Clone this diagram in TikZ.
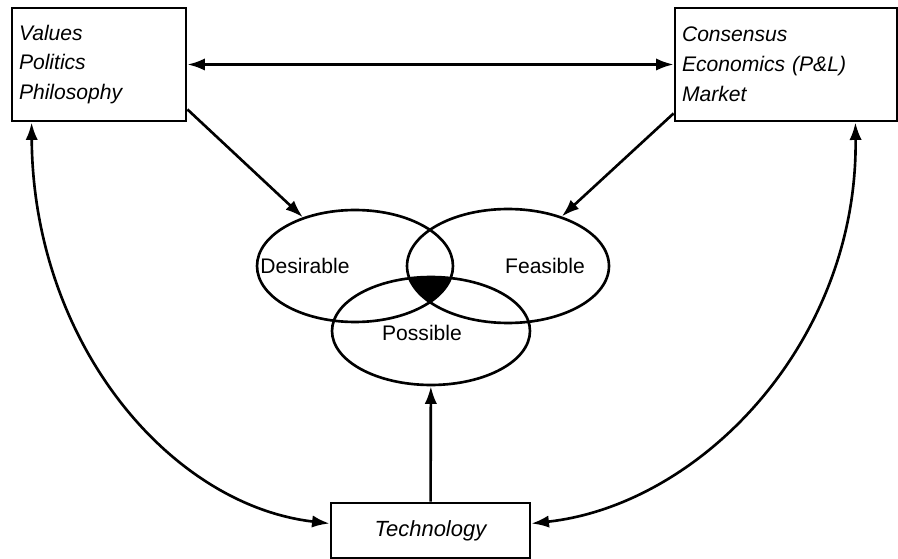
\documentclass[tikz,border=0pt]{standalone}
\usepackage{fontspec}
\setmainfont{Liberation Sans}
\usetikzlibrary{arrows.meta,positioning,calc,shapes.geometric}

\begin{document}
\begin{tikzpicture}[
    x=0.02cm, y=0.02cm,
    sidebox/.style={
        rectangle, draw, line width=1.6pt, align=left,
        inner xsep=0.14cm, minimum height=2.26cm,
        font=\fontsize{12}{17}\selectfont\itshape
    },
    techbox/.style={
        rectangle, draw, line width=1.6pt,
        minimum width=3.98cm, minimum height=1.1cm,
        font=\fontsize{12.5}{14}\selectfont\itshape
    },
    ring/.style={ellipse, draw, line width=1.5pt, inner sep=0pt},
    label/.style={font=\fontsize{12}{14}\selectfont},
    link/.style={-{Latex[length=10pt,width=7pt]}, line width=1.5pt},
    twoway/.style={{Latex[length=10pt,width=7pt]}-{Latex[length=10pt,width=7pt]}, line width=1.5pt}
]
\useasboundingbox (0,0) rectangle (898,558);

% Kästen
\node[sidebox, text width=3.2cm] (values) at (99,493.5) {Values\\Politics\\Philosophy};
\node[sidebox, text width=4.16cm] (consensus) at (786,493.5) {Consensus\\Economics (P\&L)\\Market};
\node[techbox] (tech) at (430.5,27.5) {Technology};

% Schnittmenge
\begin{scope}
    \clip (355,292) ellipse (1.96cm and 1.12cm);
    \clip (508,292) ellipse (2.02cm and 1.14cm);
    \fill (431,227) ellipse (1.98cm and 1.08cm);
\end{scope}

% Ellipsen
\node[ring, minimum width=3.92cm, minimum height=2.24cm] (desirable) at (355,292) {};
\node[ring, minimum width=4.04cm, minimum height=2.28cm] (feasible) at (508,292) {};
\node[ring, minimum width=3.96cm, minimum height=2.16cm] (possible) at (431,227) {};

\node[label] (deslabel) at (305,292) {Desirable};
\node[label] (feaslabel) at (545,292) {Feasible};
\node[label] (poslabel) at (422,225) {Possible};

% Pfeile
\draw[twoway] (values) -- (consensus);
\draw[link] ([yshift=0.26cm]values.south east) -- (desirable);
\draw[link] ([yshift=0.18cm]consensus.south west) -- (feasible);
\draw[link] (tech) -- (possible);

\draw[twoway] ([xshift=0.42cm]values.south west)
    .. controls (33,215) and (170,53) .. ([yshift=0.14cm]tech.west);
\draw[twoway] ([xshift=-0.86cm]consensus.south east)
    .. controls (858,215) and (700,53) .. ([yshift=0.14cm]tech.east);

\end{tikzpicture}
\end{document}
